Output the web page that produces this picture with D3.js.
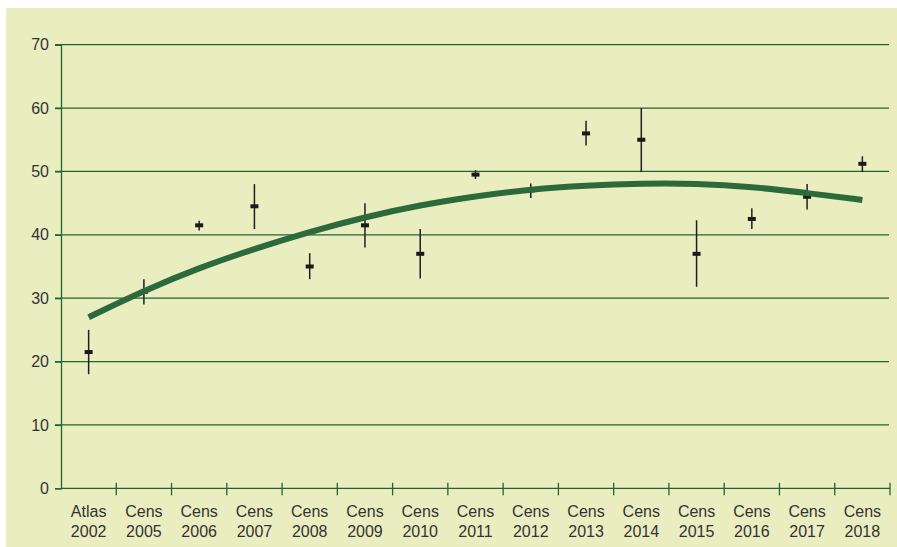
<!DOCTYPE html>
<html>
<head>
<meta charset="utf-8">
<script src="https://cdn.jsdelivr.net/npm/d3@7"></script>
<style>
  html, body { margin: 0; padding: 0; background: #ffffff; }
  svg { display: block; }
  text { font-family: "Liberation Sans", Arial, sans-serif; }
</style>
</head>
<body>
<svg id="chart" width="897" height="547"></svg>
<script>
// Survey labels (two lines each)
const surveys = ["Atlas", "Cens", "Cens", "Cens", "Cens", "Cens", "Cens", "Cens",
                 "Cens", "Cens", "Cens", "Cens", "Cens", "Cens", "Cens"];
const years = ["2002", "2005", "2006", "2007", "2008", "2009", "2010", "2011",
               "2012", "2013", "2014", "2015", "2016", "2017", "2018"];

// Point estimates with lower / upper bounds
const estimate = [21.5, 31.0, 41.5, 44.5, 35.0, 41.5, 37.0, 49.5, 47.0, 56.0, 55.0, 37.0, 42.5, 46.0, 51.2];
const lower    = [18.0, 29.0, 40.7, 40.9, 33.0, 38.0, 33.1, 48.8, 45.8, 54.1, 49.9, 31.8, 40.9, 44.0, 49.9];
const upper    = [25.0, 33.0, 42.2, 48.0, 37.1, 45.0, 40.9, 50.2, 48.1, 58.0, 60.0, 42.3, 44.2, 48.0, 52.4];

// Trend line value at each survey
const trend = [27.0, 31.2, 34.8, 37.8, 40.5, 42.8, 44.7, 46.1, 47.2, 47.8, 48.1, 48.1, 47.6, 46.6, 45.5];

const yTicks = [0, 10, 20, 30, 40, 50, 60, 70];

const svg = d3.select("#chart");
const W = 897, H = 547;

// Panel background
svg.append("rect")
  .attr("x", 6).attr("y", 8)
  .attr("width", W - 6).attr("height", H - 8)
  .attr("fill", "#eaedc0");

const plotLeft = 61, plotRight = 890, plotTop = 44.7, plotBottom = 488.3;
const idx = d3.range(years.length);

const x = d3.scaleBand().domain(idx).range([plotLeft, plotRight]).padding(0);
const y = d3.scaleLinear().domain([0, 70]).range([plotBottom, plotTop]);

const gridColor = "#25632f";

// Horizontal grid lines
svg.append("g")
  .selectAll("line")
  .data(yTicks.filter(d => d > 0))
  .join("line")
  .attr("x1", plotLeft - 6).attr("x2", plotRight - 1)
  .attr("y1", d => y(d)).attr("y2", d => y(d))
  .attr("stroke", gridColor).attr("stroke-width", 1.3);

// Y axis
const yAxis = svg.append("g")
  .attr("transform", `translate(${plotLeft},0)`)
  .call(d3.axisLeft(y).tickValues(yTicks).tickSize(6).tickPadding(6));
yAxis.select(".domain").attr("stroke", gridColor).attr("stroke-width", 1.3);
yAxis.selectAll(".tick line").attr("stroke", gridColor).attr("stroke-width", 1.3);
yAxis.selectAll(".tick text")
  .attr("font-size", 16).attr("fill", "#333333")
  .attr("font-family", "'Liberation Sans', Arial, sans-serif");

// X axis baseline and boundary ticks
svg.append("line")
  .attr("x1", plotLeft).attr("x2", plotRight)
  .attr("y1", plotBottom).attr("y2", plotBottom)
  .attr("stroke", gridColor).attr("stroke-width", 1.3);

const boundaries = idx.slice(1).map(i => x(i)).concat([x(idx.length - 1) + x.bandwidth()]);
svg.append("g")
  .selectAll("line")
  .data(boundaries)
  .join("line")
  .attr("x1", d => d).attr("x2", d => d)
  .attr("y1", plotBottom - 5.5).attr("y2", plotBottom + 7)
  .attr("stroke", gridColor).attr("stroke-width", 1.3);

// Category labels
const cx = i => x(i) + x.bandwidth() / 2;
const labels = svg.append("g")
  .selectAll("text")
  .data(idx)
  .join("text")
  .attr("text-anchor", "middle")
  .attr("font-size", 16)
  .attr("fill", "#333333");
labels.append("tspan")
  .attr("x", cx)
  .attr("y", 517)
  .text(i => surveys[i]);
labels.append("tspan")
  .attr("x", cx)
  .attr("y", 537)
  .text(i => years[i]);

// Error bars
svg.append("g")
  .selectAll("line")
  .data(idx)
  .join("line")
  .attr("x1", cx).attr("x2", cx)
  .attr("y1", i => y(lower[i])).attr("y2", i => y(upper[i]))
  .attr("stroke", "#1f1f1f").attr("stroke-width", 1.5);

// Point estimates
svg.append("g")
  .selectAll("rect")
  .data(idx)
  .join("rect")
  .attr("x", i => cx(i) - 4)
  .attr("y", i => y(estimate[i]) - 2)
  .attr("width", 8).attr("height", 4)
  .attr("fill", "#1a1a1a");

// Trend curve
const line = d3.line()
  .x(i => cx(i))
  .y(i => y(trend[i]))
  .curve(d3.curveBasis);
svg.append("path")
  .datum(idx)
  .attr("d", line)
  .attr("fill", "none")
  .attr("stroke", "#2d6a3b")
  .attr("stroke-width", 6)
  .attr("stroke-linecap", "butt");
</script>
</body>
</html>
